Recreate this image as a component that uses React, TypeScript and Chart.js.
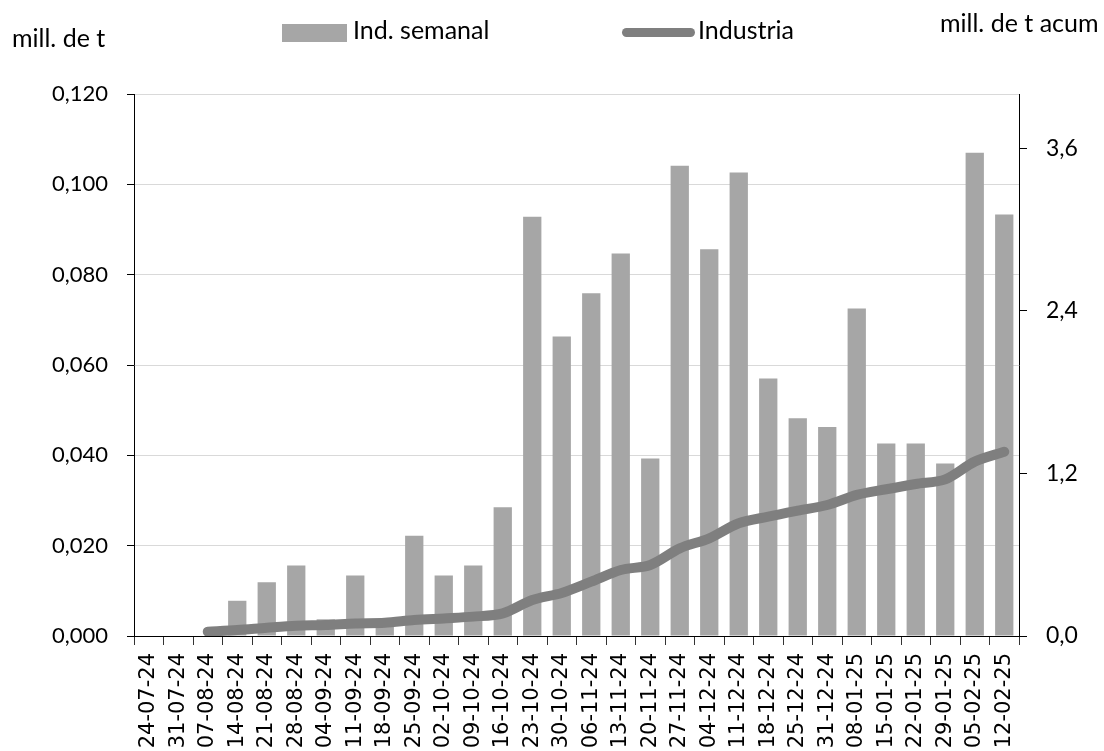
import React, { useEffect, useRef } from "react";
import { Chart, registerables } from "chart.js";

Chart.register(...registerables);

const categories = [
  "24-07-24", "31-07-24", "07-08-24", "14-08-24", "21-08-24", "28-08-24",
  "04-09-24", "11-09-24", "18-09-24", "25-09-24", "02-10-24", "09-10-24",
  "16-10-24", "23-10-24", "30-10-24", "06-11-24", "13-11-24", "20-11-24",
  "27-11-24", "04-12-24", "11-12-24", "18-12-24", "25-12-24", "31-12-24",
  "08-01-25", "15-01-25", "22-01-25", "29-01-25", "05-02-25", "12-02-25",
];

const weeklyValues = [
  0, 0, 0, 0.0078, 0.0119, 0.0156,
  0.0037, 0.0134, 0.003, 0.0222, 0.0134, 0.0156,
  0.0285, 0.0928, 0.0663, 0.0759, 0.0847, 0.0393,
  0.1041, 0.0856, 0.1026, 0.057, 0.0482, 0.0463,
  0.0725, 0.0426, 0.0426, 0.0382, 0.107, 0.0933,
];

const cumulativeValues = [
  null, null, 0.032, 0.044, 0.061, 0.076,
  0.081, 0.093, 0.097, 0.118, 0.13, 0.143,
  0.167, 0.266, 0.318, 0.401, 0.487, 0.524,
  0.647, 0.721, 0.832, 0.881, 0.925, 0.967,
  1.041, 1.083, 1.122, 1.156, 1.287, 1.36,
];

const leftTickValues = [0, 0.02, 0.04, 0.06, 0.08, 0.1, 0.12];
const rightTickValues = [0, 1.2, 2.4, 3.6];

const textFont = "Lato, 'Noto Sans', sans-serif";

export default function App() {
  const canvasRef = useRef<HTMLCanvasElement>(null);

  useEffect(() => {
    const chart = new Chart(canvasRef.current as HTMLCanvasElement, {
      data: {
        labels: categories,
        datasets: [
          {
            type: "line",
            label: "Industria",
            data: cumulativeValues,
            yAxisID: "y1",
            borderColor: "#7F7F7F",
            backgroundColor: "#7F7F7F",
            borderWidth: 10,
            borderCapStyle: "round",
            borderJoinStyle: "round",
            pointRadius: 0,
            pointHoverRadius: 0,
            tension: 0.3,
            order: 0,
          },
          {
            type: "bar",
            label: "Ind. semanal",
            data: weeklyValues,
            yAxisID: "y",
            backgroundColor: "#A6A6A6",
            barPercentage: 0.62,
            categoryPercentage: 1,
            order: 1,
          },
        ],
      } as any,
      options: {
        responsive: false,
        animation: false,
        layout: { padding: { top: 94, left: 0, right: 0, bottom: 0 } },
        plugins: { legend: { display: false }, tooltip: { enabled: false } },
        scales: {
          x: {
            offset: true,
            grid: {
              offset: true,
              drawOnChartArea: false,
              tickLength: 9,
              color: "#333",
            },
            border: { color: "#000" },
            ticks: {
              minRotation: 90,
              maxRotation: 90,
              autoSkip: false,
              padding: 8,
              color: "#000",
              font: { family: "'DejaVu Sans'", size: 21 },
            },
            afterFit: (s: any) => {
              s.height = 115;
            },
          },
          y: {
            position: "left",
            min: 0,
            max: 0.12,
            afterBuildTicks: (s: any) => {
              s.ticks = leftTickValues.map((v) => ({ value: v }));
            },
            grid: {
              color: (ctx: any) => (ctx.tick && ctx.tick.value === 0 ? "#000" : "#D9D9D9"),
              tickColor: "#000",
              tickLength: 7,
            },
            border: { color: "#000" },
            ticks: {
              padding: 19,
              color: "#000",
              font: { family: textFont, size: 22 },
              callback: (v: any) => Number(v).toFixed(3).replace(".", ","),
            },
            afterFit: (s: any) => {
              s.width = 134;
            },
          },
          y1: {
            position: "right",
            min: 0,
            max: 4,
            afterBuildTicks: (s: any) => {
              s.ticks = rightTickValues.map((v) => ({ value: v }));
            },
            grid: {
              drawOnChartArea: false,
              tickColor: "#000",
              tickLength: 8,
            },
            border: { color: "#000" },
            ticks: {
              padding: 19,
              color: "#000",
              font: { family: textFont, size: 23 },
              callback: (v: any) => Number(v).toFixed(1).replace(".", ","),
            },
            afterFit: (s: any) => {
              s.width = 85;
            },
          },
        },
      } as any,
    });
    return () => chart.destroy();
  }, []);

  const label = (text: string, left: number, top: number) => (
    <div
      style={{
        position: "absolute",
        left,
        top,
        fontFamily: textFont,
        fontSize: 25,
        lineHeight: "30px",
        color: "#000",
        whiteSpace: "nowrap",
      }}
    >
      {text}
    </div>
  );

  return (
    <div
      style={{
        position: "fixed",
        left: 0,
        top: 0,
        width: 1104,
        height: 751,
        overflow: "hidden",
        background: "#fff",
      }}
    >
      <canvas
        ref={canvasRef}
        width={1104}
        height={751}
        style={{ position: "absolute", left: 0, top: 0, width: 1104, height: 751 }}
      />
      {label("mill. de t", 12, 22)}
      {label("mill. de t acum", 940, 7)}
      <div
        style={{
          position: "absolute",
          left: 282,
          top: 24,
          width: 65,
          height: 18,
          background: "#A6A6A6",
        }}
      />
      {label("Ind. semanal", 353, 14)}
      <div
        style={{
          position: "absolute",
          left: 622,
          top: 28,
          width: 73,
          height: 9,
          borderRadius: 5,
          background: "#7F7F7F",
        }}
      />
      {label("Industria", 698, 14)}
    </div>
  );
}
